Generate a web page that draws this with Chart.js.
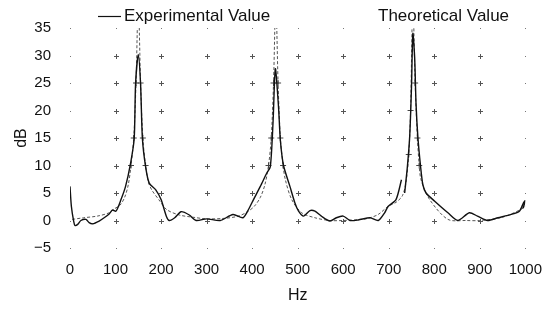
<!DOCTYPE html>
<html>
<head>
<meta charset="utf-8">
<script src="https://cdn.jsdelivr.net/npm/chart.js@4.4.1/dist/chart.umd.min.js"></script>
<style>
html,body{margin:0;padding:0;background:#fff}
#wrap{width:555px;height:312px}
</style>
</head>
<body>
<div id="wrap"><canvas id="c" width="555" height="312"></canvas></div>
<script>
// frequency (Hz) and level (dB)
let expHz=[0,3,8,11,17,24,35,42,50,64,75,86,93,101,112,122,133,141,144,150,155,159,166,174,188,200,212,218,230,244,262,277,300,330,358,380,392,403,418,432,440,446,451,458,462,469,483,494,502,513,527,538,552,571,585,600,615,633,659,677,691,699,716,728,null,735,741,746,750,753,757,760,764,770,775,782,801,830,852,877,895,917,940,969,987,996,1000,995]
let expDb=[6.2,2.6,-0.1,-0.9,-0.7,0,0.2,-0.4,-0.6,-0.1,0.5,1.2,1.9,1.7,3.8,6.2,10.4,14.9,24.8,30.2,24.8,14.9,9.8,6.8,5.6,3.8,0.7,0,0.5,1.6,1,0,0.3,0,1.1,0.5,2,3.8,6.2,8.6,9.8,18,27.6,20.6,14.6,10,6.2,3.2,1.7,0.8,1.8,1.7,0.8,-0.1,0.5,0.8,0,0.1,0.5,0,1.4,2.6,3.8,7.4,null,5,9.8,15.2,24.2,34,29.6,21.2,15.2,9.8,6.5,5,3.5,1.4,0,1.4,0.8,0,0.5,1.1,1.7,3.2,3.6,2.2]

let theoHz=[5,30,60,86,97,110,120,128,134,140,145,150,155,160,166,172,180,195,212,240,270,300,340,370,390,405,418,428,436,442,447,452,457,462,468,473,487,509,538,570,600,640,655,677,699,716,730,738,744,748,753,758,763,767,771,790,830,870,900,950,990,1000]
let theoDb=[0.2,0.5,0.8,1.4,2.1,2.8,4.2,6.5,10,15,25,40,25,15,10,7,5.5,3.8,2,1,0.6,0.3,0.4,0.8,1.6,2.6,4.2,6.5,10,15,25,40,25,15,10,7.4,3.8,1.4,0.5,0,0,0.2,0.4,1.1,2.6,3.3,4.5,7,12,20,40,25,15,10,7.4,3.8,0.2,0,0,0.6,2,2.6]

let xTicks={min:0,max:1000,step:100}
let yTicks={min:-5,max:35,step:5}

function toPoints(xs,ys){
return xs.map((x,i)=>x===null?{x:NaN,y:null}:{x:x,y:ys[i]})
}

let family="'Liberation Sans', Arial, sans-serif"
let font={family:family,size:15}

const gridMarks={
id:"gridMarks",
beforeDatasetsDraw(chart){
let {ctx,scales:{x,y}}=chart
ctx.save()
ctx.strokeStyle="#555"
ctx.fillStyle="#777"
ctx.lineWidth=1
x.ticks.forEach(tx=>{
y.ticks.forEach(ty=>{
let px=Math.round(x.getPixelForValue(tx.value))+0.5
let py=Math.round(y.getPixelForValue(ty.value))+0.5
let edge=tx.value==xTicks.min||tx.value==xTicks.max||ty.value==yTicks.min||ty.value==yTicks.max
if(edge){
ctx.fillRect(px-0.5,py-0.5,1,1)
}else{
ctx.beginPath()
ctx.moveTo(px-2.5,py);ctx.lineTo(px+2.5,py)
ctx.moveTo(px,py-2.5);ctx.lineTo(px,py+2.5)
ctx.stroke()
}
})
})
ctx.restore()
}
}

const topLegend={
id:"topLegend",
afterDraw(chart){
let ctx=chart.ctx
let ds=chart.data.datasets
ctx.save()
ctx.font="17px "+family
ctx.fillStyle="#111"
ctx.textBaseline="middle"
ctx.strokeStyle="#111"
ctx.lineWidth=1.2
ctx.beginPath()
ctx.moveTo(98,16.5);ctx.lineTo(121,16.5)
ctx.stroke()
ctx.fillText(ds[0].label,124,16)
ctx.fillText(ds[1].label,378,16)
ctx.restore()
}
}

new Chart(document.getElementById("c"),{
type:"line",
data:{
datasets:[{
label:"Experimental Value",
data:toPoints(expHz,expDb),
borderColor:"#111",
borderWidth:1.4,
pointRadius:0,
tension:0.25,
spanGaps:false
},{
label:"Theoretical Value",
data:toPoints(theoHz,theoDb),
borderColor:"#555",
borderWidth:1,
borderDash:[3,2],
pointStyle:"cross",
pointRadius:ctx=>{let v=ctx.raw&&ctx.raw.y;return v>=9&&v<=26?3:0},
pointBorderColor:"#444",
pointBorderWidth:1,
tension:0.3
}]
},
options:{
responsive:false,
animation:false,
layout:{padding:{left:0,right:29,top:28,bottom:0}},
plugins:{legend:{display:false},tooltip:{enabled:false}},
scales:{
x:{
type:"linear",
min:xTicks.min,max:xTicks.max,
afterFit:s=>{s.height=64},
grid:{display:false,drawTicks:false},
border:{display:false},
ticks:{stepSize:xTicks.step,color:"#111",font:font,padding:13,maxRotation:0,callback:v=>String(v)},
title:{display:true,text:"Hz",color:"#111",font:{family:family,size:16},padding:{top:0,bottom:7}}
},
y:{
min:yTicks.min,max:yTicks.max,
afterFit:s=>{s.width=70},
grid:{display:false,drawTicks:false},
border:{display:false},
ticks:{stepSize:yTicks.step,color:"#111",font:font,padding:19,callback:v=>String(v).replace("-","\u2212")},
title:{display:true,text:"dB",color:"#111",font:{family:family,size:16},padding:{top:12,bottom:0}}
}
}
},
plugins:[gridMarks,topLegend]
})
</script>
</body>
</html>
